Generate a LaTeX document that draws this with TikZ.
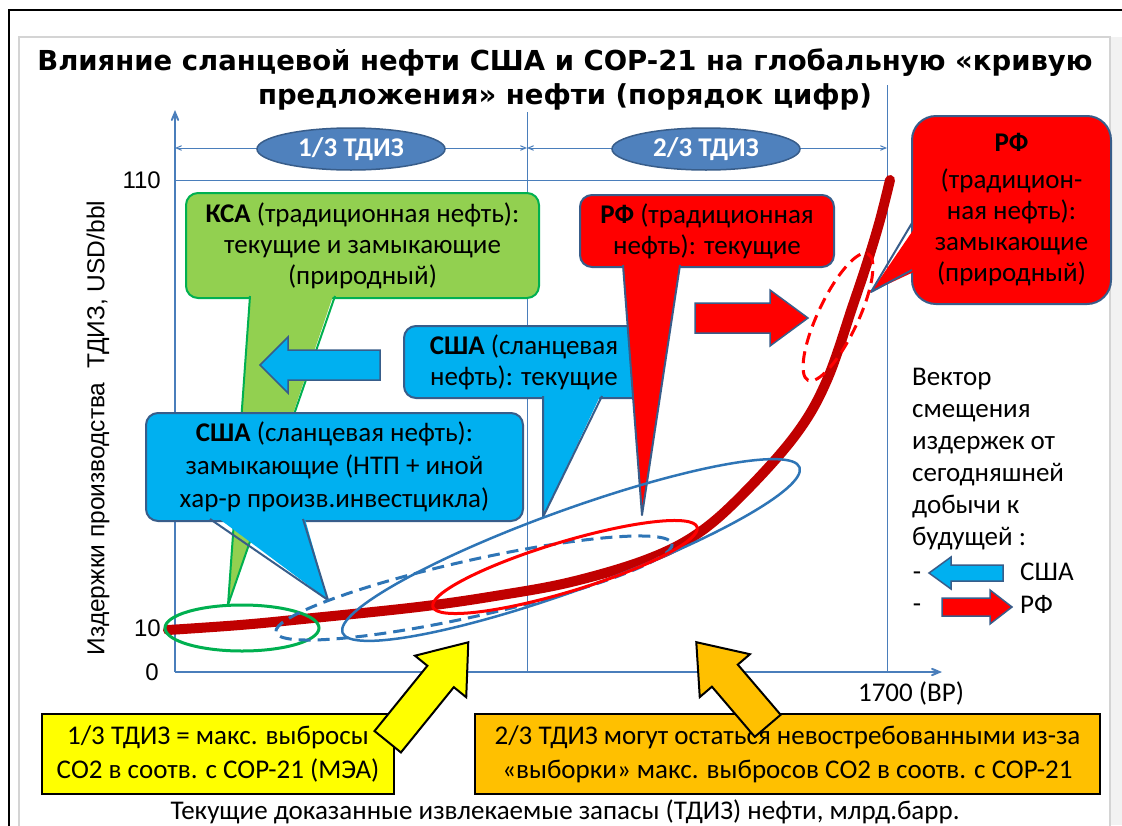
\documentclass[tikz,border=0pt]{standalone}
\usepackage{fontspec}
\setmainfont{Carlito}
\newfontfamily\titlefont{DejaVu Sans}
\newfontfamily\axisfont{Liberation Sans}
\usepackage{tikz}
\usetikzlibrary{arrows, shapes}

\definecolor{axisblue}{HTML}{4A7EBB}
\definecolor{ovalblue}{HTML}{4F81BD}
\definecolor{edgeblue}{HTML}{385D8A}
\definecolor{shaleblue}{HTML}{00B0F0}
\definecolor{ksagreen}{HTML}{92D050}
\definecolor{ksaedge}{HTML}{00B050}
\definecolor{rfred}{HTML}{FF0000}
\definecolor{curvered}{HTML}{C00000}
\definecolor{ringblue}{HTML}{2E75B6}
\definecolor{copyellow}{HTML}{FFFF00}
\definecolor{unusedorange}{HTML}{FFC000}
\definecolor{slidegray}{HTML}{D4D4D4}

\begin{document}
\begin{tikzpicture}[x=1pt, y=-1pt, >=angle 45,
  grid/.style={axisblue, line width=1pt},
  axis/.style={axisblue, line width=2pt, ->},
  tdiz/.style={ellipse, fill=ovalblue, draw=edgeblue, line width=1.5pt,
    minimum width=188pt, minimum height=42pt, inner sep=0pt,
    text=white, font=\fontsize{27}{30}\selectfont\bfseries},
  bubble/.style={rounded corners=12pt, line width=2pt, draw=edgeblue,
    anchor=north west, align=center, inner sep=0pt,
    font=\fontsize{27}{31}\selectfont},
  ksa/.style={bubble, fill=ksagreen, draw=ksaedge},
  shale/.style={bubble, fill=shaleblue},
  rf/.style={bubble, fill=rfred},
  tail/.style={line width=2pt, line join=round},
  ring/.style={line width=3pt},
  note/.style={draw=black, line width=2pt, anchor=north west, align=center,
    inner sep=0pt, font=\fontsize{27}{34}\selectfont},
  shift arrow/.style={line width=1.5pt, draw=edgeblue, line join=miter},
  pointer/.style={draw=black, line width=2pt, line join=miter},
  plain/.style={font=\fontsize{27}{32}\selectfont, inner sep=0pt},
  tick/.style={font=\axisfont\fontsize{24}{26}\selectfont, inner sep=0pt}]

  \useasboundingbox (0,0) rectangle (1122,825);
  \fill[white] (0,0) rectangle (1122,825);
  \fill[black!5] (1110,37) rectangle (1122,825);
  \draw[black, line width=2pt] (9,826) -- (9,10) -- (1123,10);
  \draw[slidegray, line width=1.5pt] (19,826) -- (19,37) -- (1110,37) -- (1110,826);

  \node[font=\titlefont\fontsize{27.5}{34}\selectfont\bfseries, align=center, inner sep=0pt]
    (title) at (565,79) {Влияние сланцевой нефти США и COP-21 на глобальную «кривую\\предложения» нефти (порядок цифр)};

  \coordinate (origin) at (175,672);
  \coordinate (ytop) at (175,110);
  \coordinate (xend) at (942,672);
  \coordinate (third) at (527,672);
  \coordinate (full) at (887,672);

  \draw[grid] (527,112) -- (third);
  \draw[grid] (887,85) -- (full);
  \draw[grid] (175,180) -- (887,180);
  \draw[axis] (origin) -- (ytop);
  \draw[axis] (origin) -- (xend);
  \draw[grid, <->] (175,148) -- (527,148);
  \draw[grid, <->] (527,148) -- (887,148);
  \node[tdiz] (lowtdiz) at (351,149) {1/3 ТДИЗ};
  \node[tdiz] (hightdiz) at (706,149) {2/3 ТДИЗ};

  \node[tick, anchor=east] (y110) at (161,180) {110};
  \node[tick, anchor=east] (y10) at (161,628) {10};
  \node[tick, anchor=east] (y0) at (159,672) {0};
  \node[tick, rotate=90, font=\axisfont\fontsize{24.5}{26}\selectfont] (ylabel) at (98,428)
    {Издержки производства\ \ ТДИЗ, USD/bbl};
  \node[plain] (bp) at (911,693) {1700 (BP)};

  % KSA
  \node[ksa, minimum width=353pt, minimum height=105pt] (ksa) at (185,192)
    {\textbf{КСА} (традиционная нефть):\\текущие и замыкающие\\(природный)};
  \fill[ksagreen] (250,290) -- (228,605) -- (335,290) -- cycle;
  \draw[ksaedge, tail] (250,296) -- (228,605) -- (335,296);

  \filldraw[fill=shaleblue, shift arrow] (380,350) -- (288,350) -- (288,337) -- (260,365)
    -- (288,393) -- (288,380) -- (380,380) -- cycle;

  % USA current
  \node[shale, minimum width=240pt, minimum height=72pt] (usnow) at (403,325)
    {\textbf{США} (сланцевая\\нефть): текущие};
  \fill[shaleblue] (543,392) -- (543,517) -- (602,392) -- cycle;
  \draw[edgeblue, tail] (543,396) -- (543,517) -- (602,396);

  % RF current
  \node[rf, minimum width=254pt, minimum height=72pt] (rfnow) at (579,194)
    {\textbf{РФ} (традиционная\\нефть): текущие};
  \fill[rfred] (623,262) -- (642,515) -- (680,262) -- cycle;
  \draw[edgeblue, tail] (623,265) -- (642,515) -- (680,265);

  \filldraw[fill=rfred, shift arrow] (695,303) -- (770,303) -- (770,290) -- (808,318)
    -- (770,346) -- (770,333) -- (695,333) -- cycle;

  % RF closing
  \node[rf, rounded corners=24pt, minimum width=199pt, minimum height=188pt] (rfend) at (911,115)
    {\textbf{РФ}\\[6pt](традицион-\\ная нефть):\\замыкающие\\(природный)};
  \fill[rfred] (918,223) -- (871,292) -- (918,270) -- cycle;
  \draw[edgeblue, tail] (912,223) -- (871,292) -- (912,270);

  % USA closing
  \node[shale, minimum width=377pt, minimum height=108pt,
    font=\fontsize{27}{33}\selectfont] (usend) at (145,412)
    {\textbf{США} (сланцевая нефть):\\замыкающие (НТП + иной\\хар-р произв.инвестцикла)};
  \fill[shaleblue] (210,512) -- (328,600) -- (303,512) -- cycle;
  \draw[edgeblue, tail] (210,519) -- (328,600) -- (303,519);

  \draw[curvered, line width=10pt, line cap=round] plot[smooth, tension=0.6] coordinates
    {(168,630) (240,625) (303,619) (418,607) (495,596) (571,582) (648,559) (700,532)
     (747,490) (797,433) (827,380) (853,305) (868,260) (880,220) (890,180)};

  \draw[ksaedge, ring] (242,628) ellipse [x radius=77, y radius=23];
  \draw[ringblue, ring, dash pattern=on 12pt off 7pt, rotate around={12.6:(474,588)}]
    (474,588) ellipse [x radius=203, y radius=28];
  \draw[ringblue, ring, line width=2.5pt, rotate around={19.9:(571,550)}]
    (571,550) ellipse [x radius=243, y radius=40];
  \draw[rfred, ring, rotate around={16.8:(565,567)}]
    (565,567) ellipse [x radius=138, y radius=25];
  \draw[rfred, ring, dash pattern=on 12pt off 7pt, rotate around={64.7:(838,317)}]
    (838,317) ellipse [x radius=70, y radius=20];

  % bottom notes
  \node[note, fill=copyellow, minimum width=352pt, minimum height=80pt] (copnote) at (41,713)
    {1/3 ТДИЗ = макс. выбросы\\СО2 в соотв. с COP-21 (МЭА)};
  \node[note, fill=unusedorange, minimum width=625pt, minimum height=80pt] (leftnote) at (474,713)
    {2/3 ТДИЗ могут остаться невостребованными из-за\\«выборки» макс. выбросов СО2 в соотв. с COP-21};
  \filldraw[fill=copyellow, pointer, shift={(428,692)}, rotate=51]
    (-64,-17) -- (20,-17) -- (20,-33) -- (64,0) -- (20,33) -- (20,17) -- (-64,17) -- cycle;
  \filldraw[fill=unusedorange, pointer, shift={(732,684)}, rotate=130.5]
    (-55,-17) -- (11,-17) -- (11,-33) -- (55,0) -- (11,33) -- (11,17) -- (-55,17) -- cycle;

  % legend
  \node[plain, anchor=west, align=left] (vector) at (912,459)
    {Вектор\\смещения\\издержек от\\сегодняшней\\добычи к\\будущей :};
  \node[plain] (dashus) at (917,576) {-};
  \node[plain] (dashrf) at (917,608) {-};
  \node[plain, anchor=west] (usa) at (1020,572) {США};
  \node[plain, anchor=west] (rus) at (1020,604) {РФ};
  \filldraw[fill=shaleblue, shift arrow] (1003,565) -- (951,565) -- (951,557) -- (929,573)
    -- (951,589) -- (951,581) -- (1003,581) -- cycle;
  \filldraw[fill=rfred, shift arrow] (942,598) -- (990,598) -- (990,590) -- (1012,607)
    -- (990,624) -- (990,616) -- (942,616) -- cycle;

  \node[plain] (caption) at (565,812) {Текущие доказанные извлекаемые запасы (ТДИЗ) нефти, млрд.барр.};
\end{tikzpicture}
\end{document}
